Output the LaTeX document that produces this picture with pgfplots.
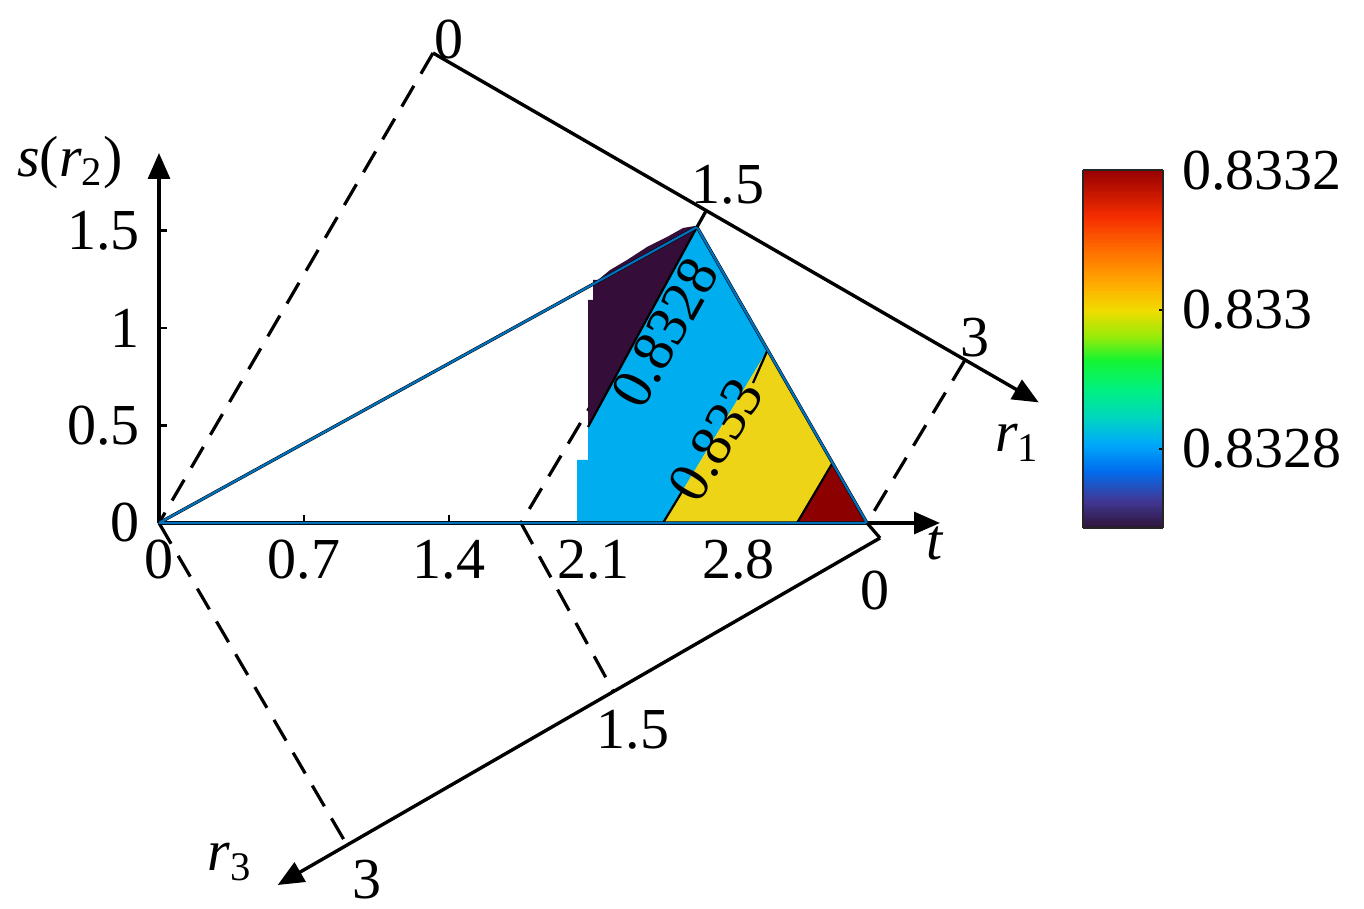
\documentclass[border=0pt]{standalone}
\usepackage{fontspec}
\setmainfont{Liberation Serif}
\usepackage{pgfplots}
\pgfplotsset{compat=1.18}
\usetikzlibrary{arrows.meta}

\definecolor{cpurple}{RGB}{52,14,56}
\definecolor{ccyan}{RGB}{0,174,239}
\definecolor{cyellow}{RGB}{238,212,22}
\definecolor{cred}{RGB}{140,0,0}
\definecolor{mblue}{RGB}{0,114,189}

\newcommand{\bigfs}{\fontsize{29}{34}\selectfont}

\begin{document}
\begin{tikzpicture}
% ---------- t / s(r2) axes ----------
\begin{axis}[
  at={(79.5pt,193pt)}, anchor=south west,
  scale only axis, width=390.5pt, height=185pt,
  xmin=0, xmax=3.773, ymin=0, ymax=1.897,
  axis x line=bottom, axis y line=left,
  axis line style={line width=1.6pt, black},
  x axis line style={-{Triangle[length=13pt,width=11pt]}},
  y axis line style={-{Triangle[length=13pt,width=11pt]}},
  xtick={0,0.7,1.4,2.1,2.8}, xticklabels={0,0.7,1.4,2.1,2.8},
  ytick={0,0.5,1,1.5}, yticklabels={0,0.5,1,1.5},
  tick align=inside, major tick length=4pt,
  tick style={black, line width=1.1pt},
  tick label style={font=\bigfs},
  xticklabel style={yshift=-5pt},
  yticklabel style={xshift=-6pt},
]
\end{axis}

% ---------- construction, contour fills, rotated axes, colorbar ----------
\begin{axis}[
  at={(0pt,0pt)}, anchor=south west,
  scale only axis, width=682pt, height=454.5pt,
  xmin=-0.76812, xmax=5.82126, ymin=-1.97949, ymax=2.68205,
  hide axis, clip=false,
  colormap={cb}{rgb255(0pt)=(45,20,55); rgb255(77pt)=(65,55,150);
    rgb255(161pt)=(0,110,240); rgb255(236pt)=(0,170,250);
    rgb255(310pt)=(0,215,190); rgb255(385pt)=(0,240,130);
    rgb255(469pt)=(20,245,50); rgb255(534pt)=(150,235,10);
    rgb255(608pt)=(240,220,0); rgb255(683pt)=(255,170,0);
    rgb255(776pt)=(255,110,0); rgb255(870pt)=(245,45,0);
    rgb255(1000pt)=(150,0,0)},
  colorbar sampled,
  point meta min=0.8326867, point meta max=0.8332007,
  colorbar style={
    samples=150,
    at={(0.794,0.813)}, anchor=north west,
    scale only axis, width=40pt, height=179pt,
    ytick={0.8328,0.833,0.8332},
    yticklabels={0.8328,0.833,0.8332},
    yticklabel pos=right, ytick pos=right,
    tick label style={font=\bigfs},
    yticklabel style={xshift=6pt},
    tick align=inside, major tick length=2pt,
    tick style={black, line width=0.8pt},
    axis line style={line width=1pt, black!85},
  },
]
% dashed construction lines
\addplot[black, line width=1.6pt, dash pattern=on 12pt off 7pt] coordinates {(1.3237,2.4103) (0,0)};
\addplot[black, line width=1.6pt, dash pattern=on 12pt off 7pt] coordinates {(0,0) (0.9082,-1.6513)};
\addplot[black, line width=1.6pt, dash pattern=on 12pt off 7pt] coordinates {(2.5990,1.5179) (1.7488,0)};
\addplot[black, line width=1.6pt, dash pattern=on 12pt off 7pt] coordinates {(1.7488,0) (2.1957,-0.8641)};
\addplot[black, line width=1.6pt, dash pattern=on 12pt off 7pt] coordinates {(3.8937,0.8359) (3.4203,0)};

% contour fills
\addplot[fill=cpurple, draw=none] coordinates {(2.0725,0.4923) (2.0725,1.1436) (2.0966,1.1436) (2.0966,1.2462) (2.1208,1.2462) (2.1787,1.2974) (2.2609,1.3487) (2.3575,1.4154) (2.4541,1.4667) (2.5314,1.5128) (2.5894,1.5231) (2.5990,1.5179)} -- cycle;
\addplot[fill=ccyan, draw=none] coordinates {(2.0193,0) (2.0193,0.3231) (2.0725,0.3231) (2.0725,0.4923) (2.5990,1.5179) (2.9401,0.8872) (2.4348,0)} -- cycle;
\addplot[fill=cyellow, draw=none] coordinates {(2.4348,0) (2.9401,0.8872) (3.2536,0.3077) (3.0821,0)} -- cycle;
\addplot[fill=cred, draw=none] coordinates {(3.0821,0) (3.2536,0.3077) (3.3300,0.1700) (3.3900,0.0700) (3.4203,0)} -- cycle;

% contour lines (0.833 line broken where its label sits)
\addplot[black, line width=1.1pt] coordinates {(2.0725,0.4923) (2.5990,1.5179)};
\addplot[black, line width=1.1pt] coordinates {(2.4348,0) (2.5314,0.1692)};
\addplot[black, line width=1.1pt] coordinates {(2.8696,0.7179) (2.9401,0.8872)};
\addplot[black, line width=1.1pt] coordinates {(3.0821,0) (3.2536,0.3077)};

% triangle outline
\addplot[black, line width=1.6pt] coordinates {(0,0) (2.5990,1.5179) (3.4203,0) (0,0)};
\addplot[mblue, line width=1.1pt] coordinates {(0,0) (2.5990,1.5179) (3.4203,0) (0,0)};

% short ticks joining the triangle to the r1 and r3 axes
\addplot[black, line width=1.6pt] coordinates {(2.5990,1.5179) (2.6425,1.6000)};
\addplot[black, line width=1.6pt] coordinates {(3.4203,0) (3.4831,-0.0769)};

% r1 and r3 axes
\addplot[black, line width=1.7pt, -{Triangle[length=13pt,width=11pt]}] coordinates {(1.3237,2.4103) (4.2498,0.6185)};
\addplot[black, line width=1.7pt, -{Triangle[length=13pt,width=11pt]}] coordinates {(3.4831,-0.0769) (0.5734,-1.8564)};

% labels
\node[font=\bigfs] at (axis cs:1.401,2.477) {0};
\node[font=\bigfs] at (axis cs:2.749,1.733) {1.5};
\node[font=\bigfs] at (axis cs:3.942,0.949) {3};
\node[font=\bigfs] at (axis cs:4.145,0.410) {\textit{r}\textsubscript{1}};
\node[font=\bigfs] at (axis cs:3.459,-0.344) {0};
\node[font=\bigfs] at (axis cs:2.290,-1.062) {1.5};
\node[font=\bigfs] at (axis cs:1.005,-1.831) {3};
\node[font=\bigfs] at (axis cs:0.343,-1.738) {\textit{r}\textsubscript{3}};
\node[font=\bigfs] at (axis cs:3.750,-0.105) {\textit{t}};
\node[font=\bigfs] at (axis cs:-0.430,1.850) {\textit{s}(\textit{r}\textsubscript{2})};
\node[font=\bigfs, rotate=61] at (axis cs:2.4444,0.9744) {0.8328};
\node[font=\bigfs, rotate=59] at (axis cs:2.6908,0.4256) {0.833};
\end{axis}
\pgfresetboundingbox
\path[use as bounding box] (0,0) rectangle (682pt,454.5pt);
\end{tikzpicture}
\end{document}
